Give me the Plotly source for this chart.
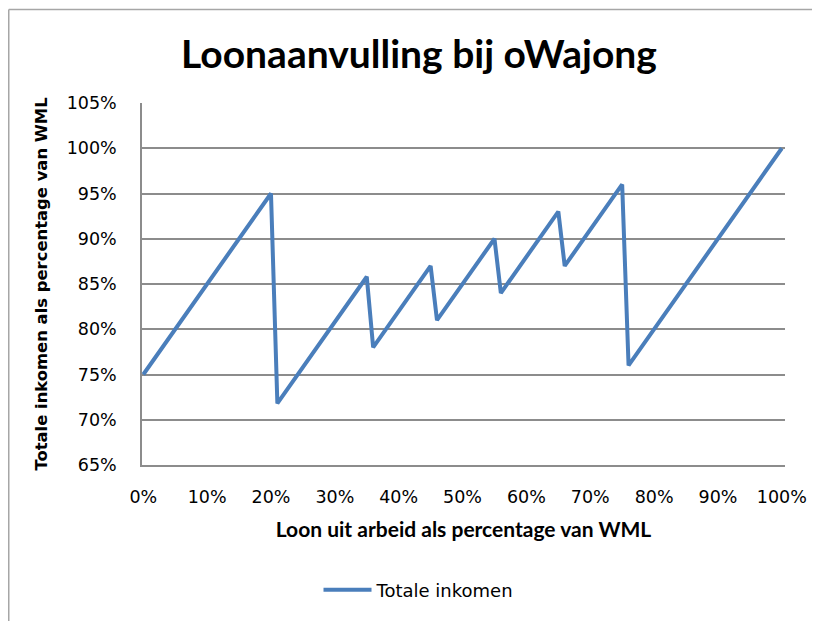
import plotly.graph_objects as go

# Loon uit arbeid als percentage van WML (0..100 in steps of 1)
loon_pct = list(range(0, 101))

# Totale inkomen als percentage van WML
totale_inkomen = [
    75, 76, 77, 78, 79, 80, 81, 82, 83, 84, 85, 86, 87, 88, 89, 90, 91, 92, 93, 94, 95,
    71.8, 72.8, 73.8, 74.8, 75.8, 76.8, 77.8, 78.8, 79.8, 80.8, 81.8, 82.8, 83.8, 84.8, 85.8,
    78, 79, 80, 81, 82, 83, 84, 85, 86, 87,
    81, 82, 83, 84, 85, 86, 87, 88, 89, 90,
    84, 85, 86, 87, 88, 89, 90, 91, 92, 93,
    87, 88, 89, 90, 91, 92, 93, 94, 95, 96,
    76, 77, 78, 79, 80, 81, 82, 83, 84, 85, 86, 87, 88, 89, 90, 91, 92, 93, 94, 95, 96, 97,
    98, 99, 100,
]

x_ticks = list(range(0, 101, 10))
x_tick_labels = [f"{v}%" for v in x_ticks]
y_ticks = list(range(65, 106, 5))
y_tick_labels = [f"{v}%" for v in y_ticks]

title_text = "Loonaanvulling bij oWajong"
x_title = "Loon uit arbeid als percentage van WML"
y_title = "Totale inkomen als percentage van WML"
series_name = "Totale inkomen"

W, H = 820, 621
# the page body adds an 8px offset; margins compensate for it
L, R, T, B = 134, 43, 95, 164
grid = "#8c8c8c"

fig = go.Figure()
fig.add_trace(go.Scatter(
    x=loon_pct, y=totale_inkomen, mode="lines", name=series_name,
    line=dict(color="#4A7EBB", width=4),
))

plot_w = W - L - R
plot_h = H - T - B

def px_to_paper_x(px):
    return (px - L) / plot_w

def px_to_paper_y(py):
    return (H - B - py) / plot_h

fig.update_layout(
    width=W, height=H,
    margin=dict(l=L, r=R, t=T, b=B),
    paper_bgcolor="white", plot_bgcolor="white",
    showlegend=True,
    title=dict(
        text=f"<b>{title_text}</b>",
        font=dict(family="Lato", size=39, color="black"),
        x=411 / W, xanchor="center", xref="container",
        y=1 - 46 / H, yanchor="middle", yref="container",
    ),
    legend=dict(
        orientation="h", x=px_to_paper_x(411), xanchor="center",
        y=px_to_paper_y(582), yanchor="middle",
        font=dict(family="DejaVu Sans", size=18, color="black"),
        bgcolor="rgba(0,0,0,0)", itemwidth=48,
    ),
    xaxis=dict(
        range=[-0.2, 100.5], tickmode="array", tickvals=x_ticks, ticktext=x_tick_labels,
        showgrid=False, zeroline=False, showline=True, linecolor=grid, linewidth=1.5,
        ticks="", ticklabelstandoff=15,
        tickfont=dict(family="DejaVu Sans", size=17.5, color="black"),
        title=dict(text=f"<b>{x_title}</b>", standoff=17,
                   font=dict(family="Lato", size=21, color="black")),
    ),
    yaxis=dict(
        range=[65, 105], tickmode="array", tickvals=y_ticks, ticktext=y_tick_labels,
        showgrid=True, gridcolor=grid, gridwidth=1.5, zeroline=False,
        showline=True, linecolor=grid, linewidth=1.5,
        ticks="", ticklabelstandoff=20,
        tickfont=dict(family="DejaVu Sans", size=17.5, color="black"),
        title=dict(text=f"<b>{y_title}</b>", standoff=15,
                   font=dict(family="DejaVu Sans", size=16.4, color="black")),
    ),
    shapes=[
        dict(type="line", xref="paper", yref="paper",
             x0=px_to_paper_x(0.75), x1=px_to_paper_x(W + 10),
             y0=px_to_paper_y(1.5), y1=px_to_paper_y(1.5),
             line=dict(color="#a6a6a6", width=1.5)),
        dict(type="line", xref="paper", yref="paper",
             x0=px_to_paper_x(0.75), x1=px_to_paper_x(0.75),
             y0=px_to_paper_y(1.5), y1=px_to_paper_y(H + 10),
             line=dict(color="#a6a6a6", width=1.5)),
    ],
)

fig.write_html("out.html")
